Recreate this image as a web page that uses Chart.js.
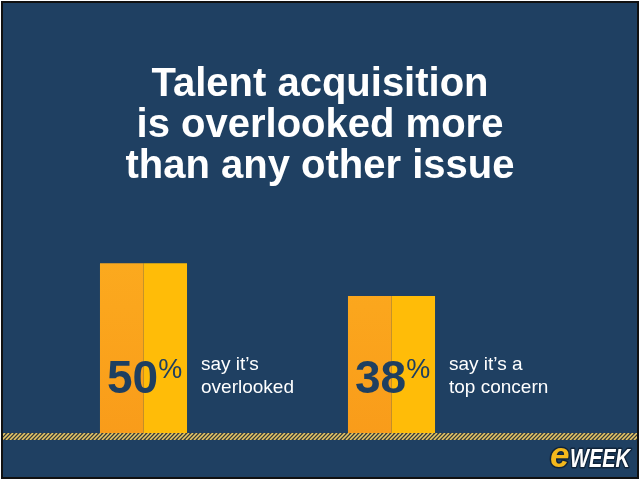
<!DOCTYPE html>
<html>
<head>
<meta charset="utf-8">
<script src="https://cdn.jsdelivr.net/npm/chart.js@4"></script>
<style>
  html, body { margin: 0; padding: 0; background: #ffffff; }
  #wrap { width: 640px; height: 480px; }
</style>
</head>
<body>
<div id="wrap"><canvas id="chart" width="640" height="480"></canvas></div>
<script>
// data
const categories = ["overlooked", "top concern"];
const values = [50, 38];
const captions = [["say it\u2019s", "overlooked"], ["say it\u2019s a", "top concern"]];
const titleLines = ["Talent acquisition", "is overlooked more", "than any other issue"];

const FONT = "'Liberation Sans', Arial, sans-serif";
const BG = "#1f4062";

// background, title, frame, hatched floor line and logo
const decoPlugin = {
    id: "deco",
    beforeDraw(chart) {
        const ctx = chart.ctx;
        ctx.save();
        ctx.fillStyle = BG;
        ctx.fillRect(0, 0, chart.width, chart.height);
        // title, centred on the whole slide
        ctx.fillStyle = "#ffffff";
        ctx.textAlign = "center";
        ctx.textBaseline = "alphabetic";
        ctx.font = "bold 40px " + FONT;
        titleLines.forEach((t, i) => ctx.fillText(t, chart.width / 2, 96 + i * 41));
        ctx.restore();
    },
    afterDraw(chart) {
        const ctx = chart.ctx;
        const y0 = chart.chartArea.bottom;
        ctx.save();
        // hatched stripe
        ctx.beginPath();
        ctx.rect(2, y0, chart.width - 4, 7);
        ctx.clip();
        ctx.fillStyle = "#353a3c";
        ctx.fillRect(0, y0, chart.width, 7);
        ctx.strokeStyle = "#e6c766";
        ctx.lineWidth = 1.6;
        for (let x = -10; x < chart.width + 10; x += 4) {
            ctx.beginPath();
            ctx.moveTo(x, y0 + 7);
            ctx.lineTo(x + 7, y0);
            ctx.stroke();
        }
        ctx.restore();

        // logo
        ctx.save();
        ctx.textBaseline = "alphabetic";
        ctx.lineJoin = "round";
        ctx.font = "italic bold 35px " + FONT;
        ctx.lineWidth = 3;
        ctx.strokeStyle = "#10243a";
        ctx.strokeText("e", 550, 467);
        ctx.fillStyle = "#f4b81c";
        ctx.fillText("e", 550, 467);
        ctx.translate(570, 467);
        ctx.scale(0.8, 1);
        ctx.font = "italic bold 25px " + FONT;
        ctx.strokeText("WEEK", 0, 0);
        ctx.fillStyle = "#ffffff";
        ctx.fillText("WEEK", 0, 0);
        ctx.restore();

        // frame
        ctx.save();
        ctx.strokeStyle = "#111111";
        ctx.lineWidth = 2;
        ctx.strokeRect(2, 2, chart.width - 4, chart.height - 4);
        ctx.strokeStyle = "#ffffff";
        ctx.lineWidth = 1;
        ctx.strokeRect(0.5, 0.5, chart.width - 1, chart.height - 1);
        ctx.restore();
    }
};

// big percentages inside bars and captions to the right
const labelPlugin = {
    id: "labels",
    afterDatasetsDraw(chart) {
        const ctx = chart.ctx;
        const m0 = chart.getDatasetMeta(0);
        const m1 = chart.getDatasetMeta(1);
        ctx.save();
        ctx.textBaseline = "alphabetic";
        ctx.textAlign = "left";
        values.forEach((v, i) => {
            const a = m0.data[i], b = m1.data[i];
            const left = a.x - a.width / 2;
            const right = b.x + b.width / 2;
            const base = a.base;
            const yb = base - 40;
            ctx.font = "bold 46px " + FONT;
            ctx.fillStyle = "#1f3f60";
            ctx.fillText(String(v), left + 7, yb);
            const w = ctx.measureText(String(v)).width;
            ctx.font = "27px " + FONT;
            ctx.fillText("%", left + 7 + w, yb - 15);

            ctx.font = "19px " + FONT;
            ctx.fillStyle = "#ffffff";
            ctx.fillText(captions[i][0], right + 14, yb - 23);
            ctx.fillText(captions[i][1], right + 14, yb);
        });
        ctx.restore();
    }
};

function leftShade(context) {
    const area = context.chart.chartArea;
    if (!area) return "#faa41c";
    const g = context.chart.ctx.createLinearGradient(0, area.top, 0, area.bottom);
    g.addColorStop(0, "#fdb020");
    g.addColorStop(1, "#f99c1a");
    return g;
}

new Chart(document.getElementById("chart"), {
    type: "bar",
    data: {
        labels: categories,
        datasets: [
            { data: values, backgroundColor: leftShade, base: -12, borderWidth: 0 },
            { data: values, backgroundColor: "#ffbc08", base: -12, borderWidth: 0 }
        ]
    },
    options: {
        responsive: false,
        animation: false,
        events: [],
        categoryPercentage: 0.351,
        barPercentage: 1.0,
        layout: { padding: { left: 19.5, right: 124.5, top: 181, bottom: 47 } },
        plugins: {
            legend: { display: false },
            tooltip: { enabled: false },
            title: { display: false }
        },
        scales: {
            x: { display: false },
            y: { display: false, min: -12, max: 80 }
        }
    },
    plugins: [decoPlugin, labelPlugin]
});
</script>
</body>
</html>
